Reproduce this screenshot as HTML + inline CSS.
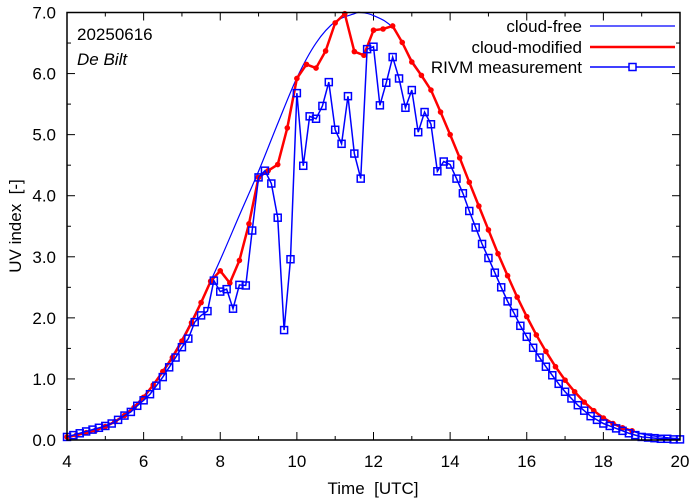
<!DOCTYPE html>
<html><head><meta charset="utf-8"><style>
body{margin:0;background:#fff}
svg{display:block;font-family:"Liberation Sans",sans-serif}
</style></head><body>
<svg id="chart" width="694" height="501" viewBox="0 0 694 501"></svg>
<script>
const cloudFreeTimes=[4,4.5,5,5.5,6,6.5,7,7.5,8,8.5,9,9.5,10,10.5,11,11.5,11.65,12,12.5,13,13.5,14,14.5,15,15.5,16,16.5,17,17.5,18,18.5,19,19.5,20];
const cloudFreeValues=[0.06,0.12,0.23,0.42,0.72,1.13,1.65,2.27,2.95,3.68,4.40,5.18,5.93,6.50,6.85,6.98,7.0,6.95,6.75,6.22,5.73,5.00,4.22,3.44,2.69,2.02,1.45,0.98,0.62,0.36,0.20,0.10,0.05,0.02];
const modelStart=4, modelStep=0.25;
const modelValues=[0.05,0.08,0.12,0.16,0.22,0.30,0.40,0.53,0.70,0.90,1.12,1.35,1.62,1.92,2.25,2.60,2.77,2.57,2.94,3.54,4.30,4.41,4.51,5.11,5.92,6.15,6.09,6.37,6.83,6.98,6.36,6.30,6.71,6.73,6.78,6.51,6.19,5.97,5.73,5.37,5.00,4.62,4.22,3.83,3.44,3.05,2.69,2.34,2.02,1.72,1.45,1.20,0.98,0.79,0.62,0.48,0.36,0.27,0.20,0.15];
const measStart=4, measStep=1/6;
const measValues=[0.05,0.08,0.11,0.14,0.17,0.20,0.23,0.27,0.33,0.40,0.46,0.56,0.65,0.75,0.89,1.03,1.19,1.35,1.52,1.66,1.93,2.04,2.11,2.61,2.43,2.47,2.15,2.54,2.53,3.43,4.30,4.41,4.20,3.64,1.80,2.96,5.68,4.49,5.30,5.26,5.47,5.86,5.08,4.85,5.63,4.69,4.28,6.40,6.44,5.48,5.85,6.27,5.92,5.44,5.73,5.04,5.37,5.17,4.40,4.56,4.51,4.28,4.04,3.75,3.48,3.21,2.98,2.74,2.50,2.27,2.08,1.87,1.69,1.51,1.35,1.20,1.06,0.92,0.79,0.68,0.57,0.48,0.39,0.33,0.27,0.23,0.19,0.15,0.11,0.08,0.05,0.04,0.03,0.02,0.02,0.01,0.01];
const xTicks=[4,6,8,10,12,14,16,18,20];
const yTicks=[0,1,2,3,4,5,6,7];
const yTickLabels=["0.0","1.0","2.0","3.0","4.0","5.0","6.0","7.0"];

const L=67,R=680,T=12.5,B=440;
const xs=t=>L+(t-4)/16*(R-L);
const ys=v=>B-v/7*(B-T);
const svg=document.getElementById('chart');
const NS='http://www.w3.org/2000/svg';
function mk(tag,attrs,parent){const e=document.createElementNS(NS,tag);for(const k in attrs)e.setAttribute(k,attrs[k]);(parent||svg).appendChild(e);return e;}

const tg=mk('g',{stroke:'#000','stroke-width':1});


for(let t=4;t<=20;t+=1){const len=(t%2===0)?8:4;
 mk('line',{x1:xs(t),x2:xs(t),y1:B,y2:B-len},tg);mk('line',{x1:xs(t),x2:xs(t),y1:T,y2:T+len},tg);}
for(let v=0;v<=7;v+=0.5){const len=(v%1===0)?8:4;
 mk('line',{x1:L,x2:L+len,y1:ys(v),y2:ys(v)},tg);mk('line',{x1:R,x2:R-len,y1:ys(v),y2:ys(v)},tg);}

xTicks.forEach(t=>{const e=mk('text',{x:xs(t),y:467,'text-anchor':'middle','font-size':17});e.textContent=t;

});
yTicks.forEach((v,i)=>{const e=mk('text',{x:56,y:ys(v)+6,'text-anchor':'end','font-size':17});e.textContent=yTickLabels[i];

});

let e=mk('text',{x:373,y:494,'text-anchor':'middle','font-size':17});e.textContent='Time\u00a0\u00a0[UTC]';


e=mk('text',{x:0,y:0,'text-anchor':'middle','font-size':17,transform:'translate(21,226) rotate(-90)'});e.textContent='UV index\u00a0\u00a0[-]';


e=mk('text',{x:77,y:40,'font-size':17});e.textContent='20250616';


e=mk('text',{x:77,y:65,'font-size':17,'font-style':'italic'});e.textContent='De Bilt';



const P=cloudFreeTimes.map((t,i)=>[xs(t),ys(cloudFreeValues[i])]);
let d='M'+P[0][0]+','+P[0][1];
for(let i=0;i<P.length-1;i++){const p0=P[Math.max(i-1,0)],p1=P[i],p2=P[i+1],p3=P[Math.min(i+2,P.length-1)];
 d+=' C'+(p1[0]+(p2[0]-p0[0])/6)+','+(p1[1]+(p2[1]-p0[1])/6)+' '+(p2[0]-(p3[0]-p1[0])/6)+','+(p2[1]-(p3[1]-p1[1])/6)+' '+p2[0]+','+p2[1];}
e=mk('path',{d:d,fill:'none',stroke:'#0000ff','stroke-width':1.2});



const mp=modelValues.map((v,i)=>xs(modelStart+i*modelStep)+','+ys(v)).join(' ');
e=mk('polyline',{points:mp,fill:'none',stroke:'#ff0000','stroke-width':2.5});


modelValues.forEach((v,i)=>{const c=mk('circle',{cx:xs(modelStart+i*modelStep),cy:ys(v),r:2.8,fill:'#ff0000'});

});

const pp=measValues.map((v,i)=>xs(measStart+i*measStep)+','+ys(v)).join(' ');
e=mk('polyline',{points:pp,fill:'none',stroke:'#0000ff','stroke-width':1.5});


measValues.forEach((v,i)=>{const r=mk('rect',{x:xs(measStart+i*measStep)-3.5,y:ys(v)-3.5,width:7,height:7,fill:'none',stroke:'#0000ff','stroke-width':1.5});

});

e=mk('rect',{x:L,y:T,width:R-L,height:B-T,fill:'none',stroke:'#000','stroke-width':1.5});



const lg=mk('g',{});


const ents=[['cloud-free',26],['cloud-modified',47],['RIVM measurement',67]];
ents.forEach((en,i)=>{const t=mk('text',{x:582,y:en[1]+6,'text-anchor':'end','font-size':17},lg);t.textContent=en[0];

});
mk('line',{x1:590,x2:675,y1:26,y2:26,stroke:'#0000ff','stroke-width':1.2},lg);
mk('line',{x1:590,x2:675,y1:47,y2:47,stroke:'#ff0000','stroke-width':2.5},lg);
mk('line',{x1:590,x2:675,y1:67,y2:67,stroke:'#0000ff','stroke-width':1.5},lg);
mk('rect',{x:629,y:63.5,width:7,height:7,fill:'#fff',stroke:'#0000ff','stroke-width':1.5},lg);
</script>
</body></html>
